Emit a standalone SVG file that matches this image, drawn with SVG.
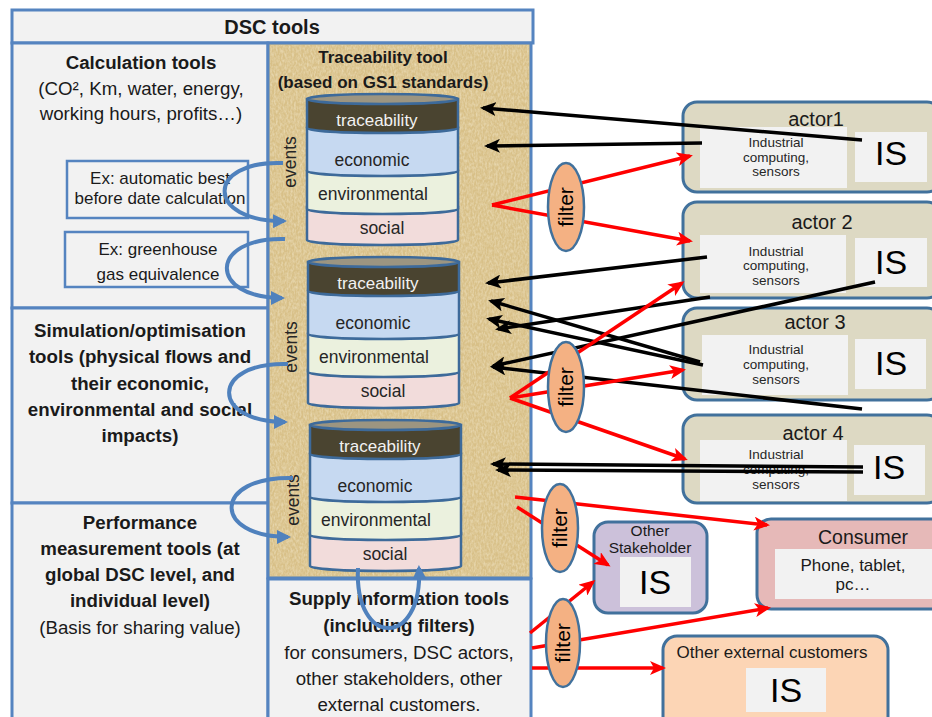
<svg xmlns="http://www.w3.org/2000/svg" width="932" height="717" viewBox="0 0 932 717">
<defs>
<style>
text{font-family:"Liberation Sans",Arial,sans-serif;fill:#1a1a1a}
.panel{fill:#f2f2f2;stroke:#5584c0;stroke-width:3}
.exbox{fill:#f2f2f2;stroke:#5584c0;stroke-width:2.5}
.b{font-weight:bold}
.t19{font-size:18.7px}
.cyl{stroke:#3d6a9a;stroke-width:2.5}
.ctext{font-size:17.5px;fill:#262626}
.actor{fill:#ddd9c3;stroke:#41719c;stroke-width:3}
.inner{fill:#f2f2f2}
.is{font-size:34px;fill:#000}
.ind{font-size:13.5px;fill:#262626}
.filter{fill:#f4b183;stroke:#41719c;stroke-width:2.5}
.ftext{font-size:21px;fill:#000}
.blk{stroke:#000;stroke-width:3.5;fill:none;marker-end:url(#mb)}
.red{stroke:#ff0000;stroke-width:3.5;fill:none;marker-end:url(#mr)}
.blue{stroke:#4f81bd;stroke-width:4;fill:none;marker-end:url(#mu)}
</style>
<marker id="mb" viewBox="0 0 16 14" markerWidth="16" markerHeight="14" refX="13" refY="7" orient="auto" markerUnits="userSpaceOnUse"><path d="M0,0 L16,7 L0,14 L4,7 Z" fill="#000"/></marker>
<marker id="mr" viewBox="0 0 16 14" markerWidth="16" markerHeight="14" refX="13" refY="7" orient="auto" markerUnits="userSpaceOnUse"><path d="M0,0 L16,7 L0,14 L4,7 Z" fill="#ff0000"/></marker>
<marker id="mu" viewBox="0 0 14 14" markerWidth="14" markerHeight="14" refX="11" refY="7" orient="auto" markerUnits="userSpaceOnUse"><path d="M0,0 L14,7 L0,14 Z" fill="#4f81bd"/></marker>
<filter id="tex" x="0" y="0" width="100%" height="100%">
<feTurbulence type="fractalNoise" baseFrequency="0.55 0.3" numOctaves="2" seed="4" result="n"/>
<feColorMatrix in="n" type="matrix" values="0 0 0 0 0.95  0 0 0 0 0.88  0 0 0 0 0.70  0 0 0 0.9 -0.3"/>
</filter>
<g id="cylshape">
<path class="cyl" d="M307,207 V240 A75.5,5 0 0 0 458,240 V207 Z" fill="#f2dcdb"/>
<path class="cyl" d="M307,171 V209 A75.5,5 0 0 0 458,209 V171 Z" fill="#ebf1de"/>
<path class="cyl" d="M307,128 V171 A75.5,5 0 0 0 458,171 V128 Z" fill="#c6d9f1"/>
<path class="cyl" d="M307,99 V128 A75.5,5 0 0 0 458,128 V99 Z" fill="#4a4430"/>
<ellipse class="cyl" cx="382.5" cy="99" rx="75.5" ry="5" fill="#9c9581"/>
<text x="377" y="126" font-size="17px" text-anchor="middle" style="fill:#f2f2f2">traceability</text>
<text class="ctext" x="372" y="166" text-anchor="middle">economic</text>
<text class="ctext" x="373" y="200" text-anchor="middle">environmental</text>
<text class="ctext" x="382" y="234" text-anchor="middle">social</text>
</g>
</defs>

<g id="header">
<rect class="panel" x="12" y="10" width="521" height="33"/>
<text class="b" x="272" y="34" font-size="20px" text-anchor="middle">DSC tools</text>
</g>

<g id="calculation-tools">
<rect class="panel" x="12" y="43" width="256" height="265"/>
<text class="b t19" x="141" y="68.5" text-anchor="middle">Calculation tools</text>
<text class="t19" x="141" y="94.5" text-anchor="middle">(CO², Km, water, energy,</text>
<text class="t19" x="141" y="120" text-anchor="middle">working hours, profits…)</text>
</g>

<g id="ex-best-before">
<rect class="exbox" x="67" y="161" width="181" height="57"/>
<text x="160" y="184" font-size="17px" text-anchor="middle">Ex: automatic best</text>
<text x="160" y="204" font-size="17px" text-anchor="middle">before date calculation</text>
</g>

<g id="ex-greenhouse">
<rect class="exbox" x="65" y="232" width="183" height="55"/>
<text x="158" y="255" font-size="17px" text-anchor="middle">Ex: greenhouse</text>
<text x="158" y="280" font-size="17px" text-anchor="middle">gas equivalence</text>
</g>

<g id="simulation-tools">
<rect class="panel" x="12" y="308" width="256" height="195"/>
<text class="b t19" x="140" y="336.5" text-anchor="middle">Simulation/optimisation</text>
<text class="b t19" x="140" y="362.5" text-anchor="middle">tools (physical flows and</text>
<text class="b t19" x="140" y="389.5" text-anchor="middle">their economic,</text>
<text class="b t19" x="140" y="415.5" text-anchor="middle">environmental and social</text>
<text class="b t19" x="140" y="441.5" text-anchor="middle">impacts)</text>
</g>

<g id="performance-tools">
<rect class="panel" x="12" y="503" width="256" height="225"/>
<text class="b t19" x="140" y="528.5" text-anchor="middle">Performance</text>
<text class="b t19" x="140" y="554.5" text-anchor="middle">measurement tools (at</text>
<text class="b t19" x="140" y="580.5" text-anchor="middle">global DSC level, and</text>
<text class="b t19" x="140" y="606.5" text-anchor="middle">individual level)</text>
<text class="t19" x="140" y="633.5" text-anchor="middle">(Basis for sharing value)</text>
</g>

<g id="traceability-tool">
<rect x="268" y="43" width="263" height="535" fill="#d8c088" stroke="#5584c0" stroke-width="3"/>
<rect x="270" y="45" width="259" height="531" filter="url(#tex)"/>
<text class="b" x="383" y="63" font-size="17px" text-anchor="middle">Traceability tool</text>
<text class="b" x="383" y="88" font-size="17px" text-anchor="middle">(based on GS1 standards)</text>
</g>

<g id="cylinder1">
<use href="#cylshape"/>
<text class="ctext" transform="translate(290,162) rotate(-90)" y="6" text-anchor="middle">events</text>
</g>
<g id="cylinder2">
<use href="#cylshape" transform="translate(1,163)"/>
<text class="ctext" transform="translate(291,347) rotate(-90)" y="6" text-anchor="middle">events</text>
</g>
<g id="cylinder3">
<use href="#cylshape" transform="translate(3,326)"/>
<text class="ctext" transform="translate(293,500) rotate(-90)" y="6" text-anchor="middle">events</text>
</g>

<g id="supply-information-tools">
<rect class="panel" x="268" y="579" width="263" height="150"/>
<text class="b t19" x="399" y="604.5" text-anchor="middle">Supply information tools</text>
<text class="b t19" x="399" y="631.5" text-anchor="middle">(including filters)</text>
<text class="t19" x="399" y="658.5" text-anchor="middle">for consumers, DSC actors,</text>
<text class="t19" x="399" y="684.5" text-anchor="middle">other stakeholders, other</text>
<text class="t19" x="399" y="710.5" text-anchor="middle">external customers.</text>
</g>

<g id="actor1">
<rect class="actor" x="683" y="102" width="258" height="90" rx="14"/>
<rect class="inner" x="700" y="127" width="147" height="61"/>
<rect class="inner" x="855" y="132" width="72" height="50"/>
<text x="816" y="126" font-size="20px" text-anchor="middle">actor1</text>
<text class="ind" x="776" y="146.5" text-anchor="middle">Industrial</text>
<text class="ind" x="776" y="161.5" text-anchor="middle">computing,</text>
<text class="ind" x="776" y="176" text-anchor="middle">sensors</text>
<text class="is" x="891" y="165" text-anchor="middle">IS</text>
</g>

<g id="actor2">
<rect class="actor" x="683" y="202" width="258" height="96" rx="14"/>
<rect class="inner" x="700" y="235" width="146" height="58"/>
<rect class="inner" x="855" y="238" width="72" height="49"/>
<text x="822" y="229" font-size="20px" text-anchor="middle">actor 2</text>
<text class="ind" x="776" y="255.5" text-anchor="middle">Industrial</text>
<text class="ind" x="776" y="270" text-anchor="middle">computing,</text>
<text class="ind" x="776" y="285" text-anchor="middle">sensors</text>
<text class="is" x="891" y="274" text-anchor="middle">IS</text>
</g>

<g id="actor3">
<rect class="actor" x="683" y="308" width="258" height="92" rx="14"/>
<rect class="inner" x="702" y="335" width="146" height="60"/>
<rect class="inner" x="855" y="339" width="71" height="50"/>
<text x="815" y="329" font-size="20px" text-anchor="middle">actor 3</text>
<text class="ind" x="776" y="353.5" text-anchor="middle">Industrial</text>
<text class="ind" x="776" y="368.5" text-anchor="middle">computing,</text>
<text class="ind" x="776" y="383.5" text-anchor="middle">sensors</text>
<text class="is" x="891" y="375" text-anchor="middle">IS</text>
</g>

<g id="actor4">
<rect class="actor" x="683" y="415" width="258" height="88" rx="14"/>
<rect class="inner" x="700" y="440" width="147" height="61"/>
<rect class="inner" x="854" y="445" width="71" height="50"/>
<text x="813" y="440" font-size="20px" text-anchor="middle">actor 4</text>
<text class="ind" x="776" y="458.5" text-anchor="middle">Industrial</text>
<text class="ind" x="776" y="473.5" text-anchor="middle">computing,</text>
<text class="ind" x="776" y="488.5" text-anchor="middle">sensors</text>
<text class="is" x="889" y="479" text-anchor="middle">IS</text>
</g>

<g id="other-stakeholder">
<rect x="594" y="522" width="113" height="91" rx="14" fill="#ccc1da" stroke="#41719c" stroke-width="3"/>
<rect class="inner" x="620" y="557" width="71" height="50"/>
<text x="650" y="536" font-size="15.5px" text-anchor="middle">Other</text>
<text x="650" y="552.5" font-size="15.5px" text-anchor="middle">Stakeholder</text>
<text class="is" x="655" y="594" text-anchor="middle">IS</text>
</g>

<g id="consumer">
<rect x="757" y="519" width="190" height="90" rx="14" fill="#e6b9b8" stroke="#41719c" stroke-width="3"/>
<rect class="inner" x="775" y="549" width="160" height="50"/>
<text x="863" y="544" font-size="19.5px" text-anchor="middle">Consumer</text>
<text x="853" y="571" font-size="17px" text-anchor="middle">Phone, tablet,</text>
<text x="853" y="590" font-size="17px" text-anchor="middle">pc…</text>
</g>

<g id="other-external-customers">
<rect x="663" y="636" width="225" height="100" rx="14" fill="#fcd5b5" stroke="#41719c" stroke-width="3"/>
<rect class="inner" x="746" y="668" width="80" height="44"/>
<text x="772" y="658" font-size="17px" text-anchor="middle">Other external customers</text>
<text class="is" x="786" y="702" text-anchor="middle">IS</text>
</g>

<g id="connectors">
<path class="blue" d="M283,163 C205,160 205,222 284,221"/>
<path class="blue" d="M285,239 C208,237 208,298 282,298"/>
<path class="blue" d="M288,364 C210,362 210,422 285,422"/>
<path class="blue" d="M293,478 C212,476 212,537 288,537"/>
<path class="blue" d="M358,568 C354,648 423,648 419,568"/>

<line class="blk" x1="862" y1="140" x2="483" y2="108"/>
<line class="blk" x1="702" y1="143" x2="487" y2="146"/>
<line class="blk" x1="707" y1="257" x2="488" y2="283"/>
<line class="blk" x1="700" y1="362" x2="491" y2="301"/>
<line class="blk" x1="703" y1="365" x2="489" y2="319"/>
<line class="blk" x1="710" y1="297" x2="498" y2="329"/>
<line class="blk" x1="875" y1="282" x2="493" y2="366"/>
<line class="blk" x1="862" y1="409" x2="493" y2="367"/>
<line class="blk" x1="863" y1="467" x2="493" y2="464"/>
<line class="blk" x1="863" y1="472" x2="498" y2="470"/>

<line class="red" x1="492" y1="205" x2="690" y2="156"/>
<line class="red" x1="492" y1="205" x2="690" y2="241"/>
<line class="red" x1="510" y1="398" x2="682" y2="283"/>
<line class="red" x1="510" y1="398" x2="683" y2="370"/>
<line class="red" x1="510" y1="398" x2="685" y2="459"/>
<line class="red" x1="515" y1="497" x2="767" y2="525"/>
<line class="red" x1="517" y1="507" x2="608" y2="565"/>
<line class="red" x1="530" y1="633" x2="593" y2="582"/>
<line class="red" x1="532" y1="648" x2="768" y2="608"/>
<line class="red" x1="532" y1="668" x2="663" y2="668"/>
</g>

<g id="filter1">
<ellipse class="filter" cx="566" cy="207" rx="18" ry="44"/>
<text class="ftext" transform="translate(566,207) rotate(-90)" y="7" text-anchor="middle">filter</text>
</g>
<g id="filter2">
<ellipse class="filter" cx="566" cy="387" rx="18" ry="45"/>
<text class="ftext" transform="translate(566,387) rotate(-90)" y="7" text-anchor="middle">filter</text>
</g>
<g id="filter3">
<ellipse class="filter" cx="560" cy="528" rx="18" ry="44"/>
<text class="ftext" transform="translate(560,528) rotate(-90)" y="7" text-anchor="middle">filter</text>
</g>
<g id="filter4">
<ellipse class="filter" cx="563" cy="643" rx="17" ry="44"/>
<text class="ftext" transform="translate(563,643) rotate(-90)" y="7" text-anchor="middle">filter</text>
</g>
</svg>
